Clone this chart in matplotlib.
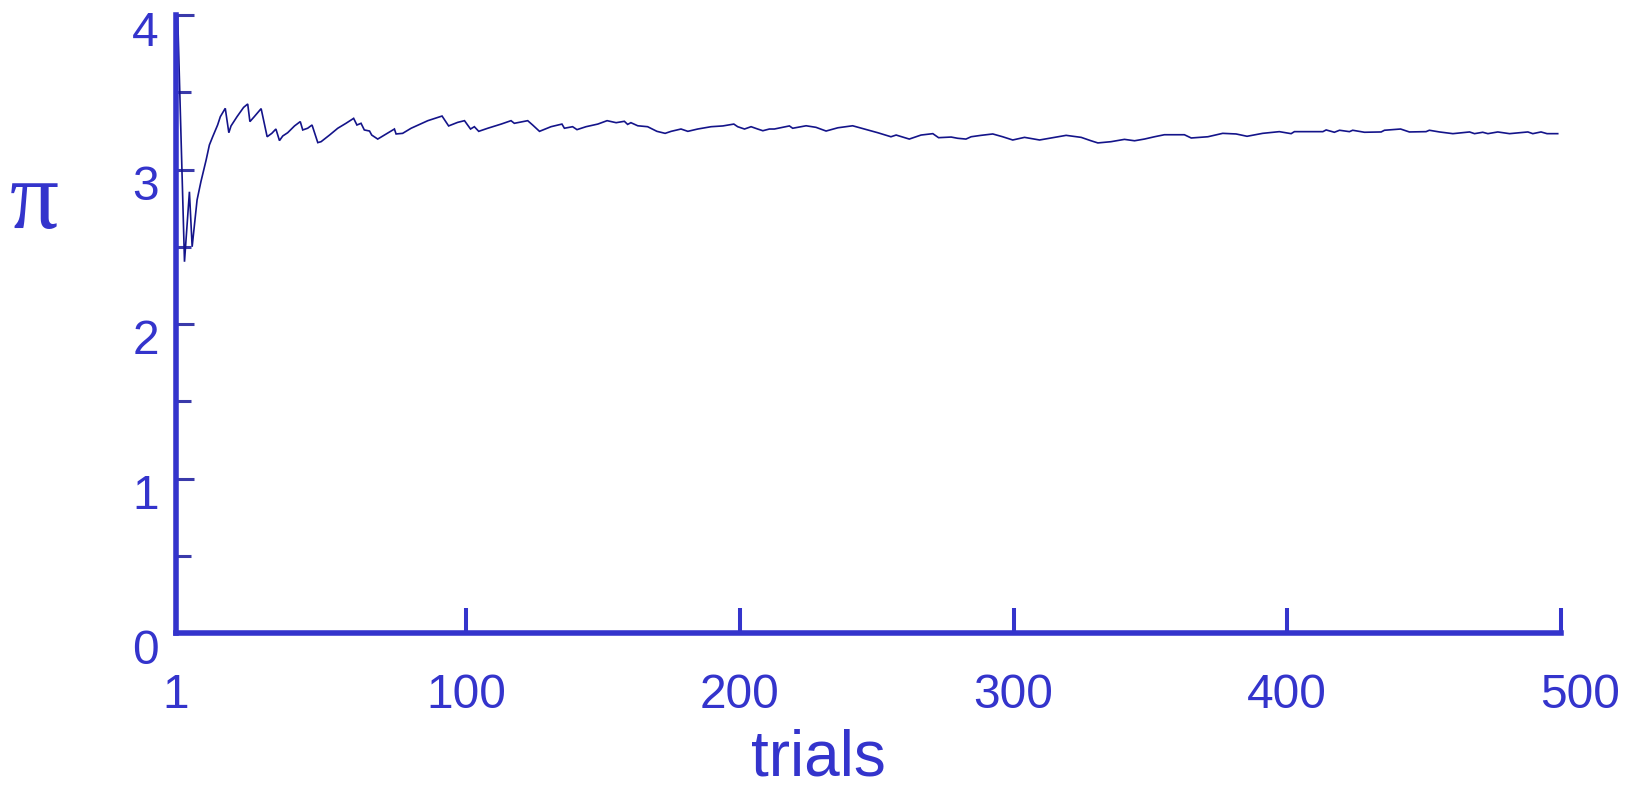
import matplotlib
matplotlib.use("Agg")
import matplotlib.pyplot as plt
import matplotlib.transforms as mtransforms

# ---- data (trial index, running estimate of pi) ----
trials = [-5.4, -2.9, -1.1, -0.1, 1.7, 3.1, 5.0, 6.2, 7.4, 9.2, 10.2, 12.0, 13.3, 14.1,
          16.3, 18.7, 20.2, 21.0, 22.6, 25.1, 27.3, 29.0, 30.5, 31.8, 33.0, 34.8, 37.3,
          39.4, 40.3, 42.1, 43.7, 45.8, 47.0, 50.1, 53.1, 56.1, 58.9, 60.1, 61.6, 62.8,
          64.7, 65.5, 67.7, 73.8, 74.4, 76.8, 79.9, 86.0, 91.2, 93.6, 96.9, 99.4,
          101.6, 103.0, 104.6, 107.9, 112.8, 116.4, 117.6, 122.5, 124.3, 126.8, 131.0,
          135.0, 135.9, 138.9, 140.5, 143.8, 148.1, 151.5, 154.8, 157.8, 159.0, 160.2,
          162.7, 166.3, 169.7, 172.7, 174.9, 178.5, 181.0, 184.6, 189.5, 193.8, 197.8,
          199.2, 201.7, 204.1, 206.5, 208.4, 210.8, 212.6, 218.1, 219.3, 224.2, 227.8,
          231.5, 235.8, 241.2, 245.5, 250.4, 255.2, 257.1, 261.9, 266.2, 270.5, 272.6,
          277.2, 279.6, 282.6, 284.5, 288.1, 292.4, 296.0, 299.7, 304.0, 309.5, 314.9,
          319.2, 324.7, 328.3, 330.8, 335.6, 340.5, 344.2, 347.8, 351.5, 355.1, 362.4,
          364.9, 371.0, 376.4, 381.3, 385.3, 391.0, 397.1, 401.4, 402.6, 413.0, 414.2,
          417.2, 419.1, 422.7, 423.9, 428.2, 434.3, 435.5, 441.4, 444.6, 450.7, 451.9,
          455.6, 460.5, 466.6, 468.4, 471.4, 473.3, 476.9, 481.2, 487.9, 489.7, 492.7,
          494.9, 498.8]
pi_estimate = [4.000, 2.403, 2.856, 2.500, 2.803, 2.921, 3.061, 3.159, 3.212, 3.288, 3.342,
               3.396, 3.238, 3.282, 3.342, 3.402, 3.424, 3.310, 3.342, 3.394, 3.212, 3.234,
               3.262, 3.187, 3.217, 3.238, 3.282, 3.310, 3.256, 3.267, 3.288, 3.174, 3.180,
               3.223, 3.267, 3.299, 3.331, 3.288, 3.299, 3.256, 3.249, 3.223, 3.197, 3.262,
               3.230, 3.234, 3.267, 3.316, 3.346, 3.282, 3.305, 3.316, 3.262, 3.277, 3.247,
               3.267, 3.294, 3.316, 3.299, 3.316, 3.288, 3.247, 3.277, 3.294, 3.267, 3.277,
               3.258, 3.277, 3.294, 3.316, 3.303, 3.312, 3.292, 3.303, 3.283, 3.277, 3.247,
               3.234, 3.247, 3.262, 3.247, 3.262, 3.277, 3.282, 3.294, 3.277, 3.262, 3.277,
               3.262, 3.251, 3.262, 3.262, 3.282, 3.267, 3.283, 3.273, 3.249, 3.270, 3.283,
               3.262, 3.238, 3.212, 3.223, 3.197, 3.223, 3.232, 3.206, 3.210, 3.202, 3.197,
               3.212, 3.221, 3.230, 3.212, 3.191, 3.208, 3.191, 3.208, 3.221, 3.208, 3.186,
               3.172, 3.180, 3.195, 3.186, 3.197, 3.212, 3.225, 3.225, 3.204, 3.212, 3.234,
               3.230, 3.215, 3.234, 3.245, 3.232, 3.245, 3.245, 3.256, 3.241, 3.254, 3.245,
               3.254, 3.241, 3.243, 3.254, 3.262, 3.243, 3.245, 3.254, 3.243, 3.232, 3.243,
               3.232, 3.241, 3.232, 3.243, 3.232, 3.243, 3.232, 3.243, 3.232, 3.232]

x_tick_pos = [-6, 100, 200, 300, 400, 500]
x_tick_labels = ["1", "100", "200", "300", "400", "500"]
y_major = [0, 1, 2, 3, 4]
y_minor = [0.5, 1.5, 2.5, 3.5]
x_label = "trials"
y_label = "π"

# ---- style ----
AXIS_C = "#3434cc"
LINE_C = "#14148a"
plt.rcParams["font.family"] = ["Liberation Sans", "DejaVu Sans"]

fig = plt.figure(figsize=(16.35, 7.85), dpi=100)
ax = fig.add_axes([176 / 1635, 152 / 785, 1385 / 1635, 618 / 785])

ax.plot(trials, pi_estimate, color=LINE_C, lw=1.2, solid_joinstyle="miter")

ax.set_xlim(x_tick_pos[0], 500)
ax.set_ylim(0, 4)

for s in ("top", "right"):
    ax.spines[s].set_visible(False)
for s in ("left", "bottom"):
    ax.spines[s].set_linewidth(4)
    ax.spines[s].set_color(AXIS_C)
    ax.spines[s].set_capstyle("projecting")

ax.set_xticks(x_tick_pos)
ax.set_xticklabels(x_tick_labels)
ax.set_yticks(y_major)
ax.set_yticks(y_minor, minor=True)

ax.tick_params(axis="x", which="major", direction="in", length=18, width=2.9,
               color=AXIS_C, labelcolor=AXIS_C, labelsize=34.5, pad=29)
ax.tick_params(axis="y", which="major", direction="in", length=13, width=2.2,
               color="#3a3aaa", labelcolor=AXIS_C, labelsize=34.5, pad=12.5)
ax.tick_params(axis="y", which="minor", direction="in", length=10.5, width=2.2,
               color="#3a3aaa")

# shift labels like in the reference
down = mtransforms.ScaledTranslation(0, -0.13, fig.dpi_scale_trans)
for lab in ax.get_yticklabels():
    lab.set_transform(lab.get_transform() + down)
xl = ax.get_xticklabels()
xl[-1].set_transform(xl[-1].get_transform() +
                     mtransforms.ScaledTranslation(0.19, 0, fig.dpi_scale_trans))

ax.set_xlabel(x_label, fontsize=46, color=AXIS_C)
ax.xaxis.set_label_coords((818 - 176) / 1385, -(775 - 633) / 618)
ax.xaxis.label.set_va("baseline")

ax.set_ylabel(y_label, rotation=0, fontsize=70, color=AXIS_C,
              family=["Liberation Serif", "DejaVu Serif"])
ax.yaxis.set_label_coords((34 - 176) / 1385, (633 - 228) / 618)
ax.yaxis.label.set_va("baseline")
ax.yaxis.label.set_ha("center")

fig.savefig("out.png", dpi=100)
